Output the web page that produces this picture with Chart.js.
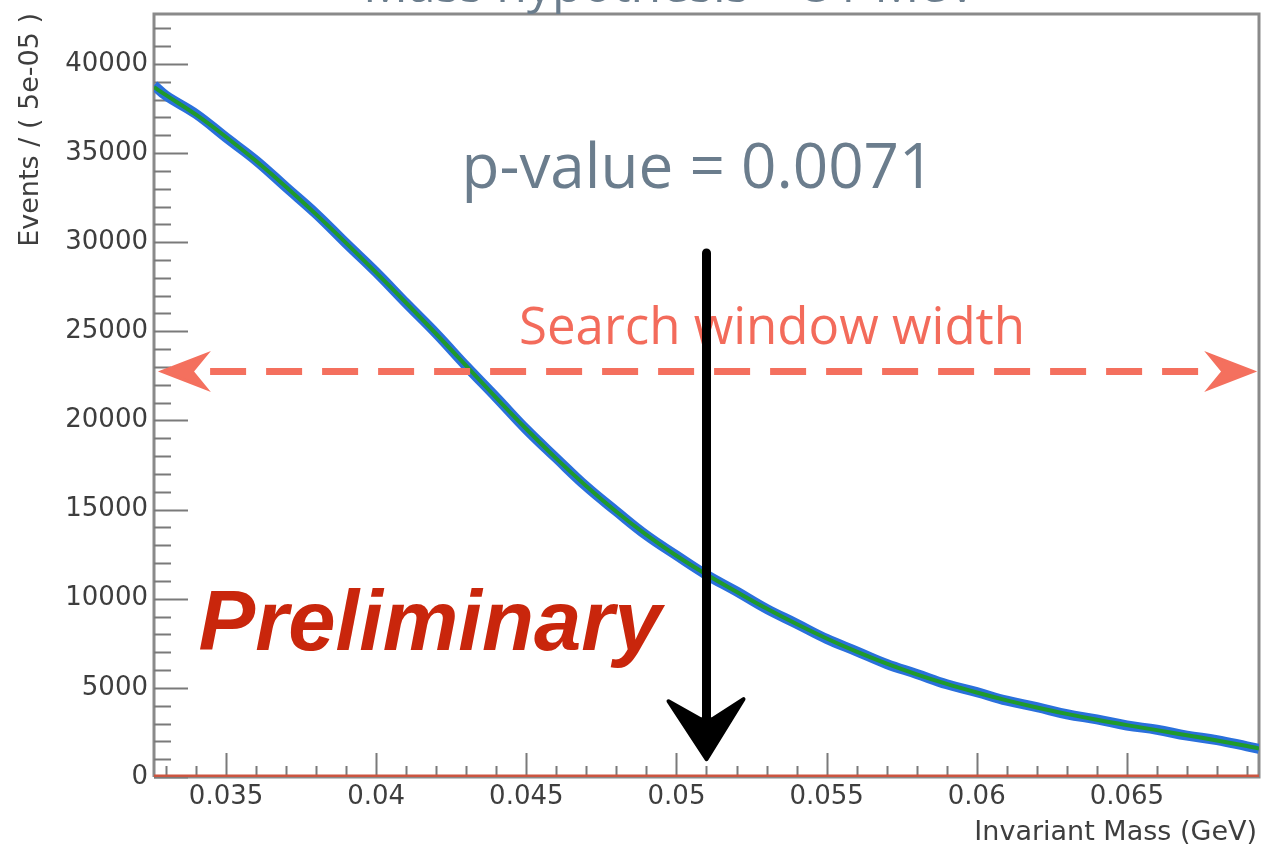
<!DOCTYPE html>
<html><head><meta charset="utf-8">
<script src="https://cdn.jsdelivr.net/npm/chart.js@4.4.1/dist/chart.umd.min.js"></script>
<style>html,body{margin:0;padding:0;background:#fff;}canvas{display:block;}</style>
</head><body><canvas id="c" width="1264" height="848"></canvas>
<script>
// ---- data ----
const massValues = [0.0326, 0.033, 0.034, 0.035, 0.036, 0.037, 0.038, 0.039, 0.040, 0.041, 0.042, 0.043, 0.044, 0.045, 0.046, 0.047, 0.048, 0.049, 0.050, 0.051, 0.052, 0.053, 0.054, 0.055, 0.056, 0.057, 0.058, 0.059, 0.060, 0.061, 0.062, 0.063, 0.064, 0.065, 0.066, 0.067, 0.068, 0.069, 0.0694];
const fitEvents = [38700, 38250, 37150, 35900, 34550, 33100, 31560, 29950, 28290, 26590, 24850, 23060, 21270, 19520, 17860, 16310, 14880, 13580, 12410, 11360, 10390, 9450, 8580, 7770, 7030, 6360, 5760, 5220, 4740, 4300, 3900, 3540, 3210, 2910, 2630, 2340, 2050, 1740, 1600];
const dataEvents = [38800, 38220, 37190, 35870, 34580, 33080, 31590, 29930, 28310, 26570, 24870, 23040, 21290, 19500, 17880, 16290, 14900, 13560, 12430, 11340, 10410, 9430, 8600, 7750, 7050, 6340, 5780, 5200, 4760, 4280, 3920, 3520, 3230, 2890, 2650, 2320, 2070, 1720, 1580];
const baselineMass = [0.0326, 0.0694];
const baselineEvents = [0, 0];
const xTickLabels = ['0.035', '0.04', '0.045', '0.05', '0.055', '0.06', '0.065'];
const yTickLabels = ['0', '5000', '10000', '15000', '20000', '25000', '30000', '35000', '40000'];
const xRange = [0.0326, 0.0694];
const yRange = [0, 42800];
const massHypothesis = 0.051;
const windowEdges = [0.03287, 0.0692];
const windowLevel = 22750;
const arrowTop = 29400, arrowTip = 1000;

const xMinor = []; for (let i = 33; i <= 69; i++) xMinor.push(i / 1000);
const yMinor = []; for (let i = 0; i <= 42; i++) yMinor.push(i * 1000);
const xMajorVals = xTickLabels.map(Number);
const yMajorVals = yTickLabels.map(Number);
const isMajor = (v, arr) => arr.some(m => Math.abs(m - v) < 1e-9 * Math.max(1, Math.abs(m)));

const tickFont = {family: "'DejaVu Sans', sans-serif", size: 26};
const axisGrey = '#3e3e3e';

const rootFrame = {
  id: 'rootFrame',
  beforeDatasetsDraw(chart) {
    const {ctx, chartArea: a, scales: {x, y}} = chart;
    ctx.save();
    ctx.strokeStyle = '#8a8a8a';
    ctx.lineWidth = 3;
    ctx.beginPath();
    ctx.moveTo(a.left, a.bottom); ctx.lineTo(a.left, a.top); ctx.lineTo(a.right, a.top); ctx.lineTo(a.right, a.bottom); ctx.lineTo(a.left, a.bottom);
    ctx.stroke();
    ctx.lineWidth = 2;
    ctx.strokeStyle = '#7a7a7a';
    ctx.beginPath();
    y.ticks.forEach(t => {
      const py = Math.round(y.getPixelForValue(t.value)) + 0.5;
      const len = isMajor(t.value, yMajorVals) ? 34 : 17;
      ctx.moveTo(a.left, py); ctx.lineTo(a.left + len, py);
    });
    x.ticks.forEach(t => {
      const px = Math.round(x.getPixelForValue(t.value)) + 0.5;
      const len = isMajor(t.value, xMajorVals) ? 24 : 11;
      ctx.moveTo(px, a.bottom); ctx.lineTo(px, a.bottom - len);
    });
    ctx.stroke();
    ctx.restore();
  },
  afterDraw(chart) {
    const {ctx, scales: {x, y}} = chart;
    ctx.save();
    // partially visible title
    ctx.fillStyle = '#6b7d8d';
    ctx.font = "50px 'Open Sans', sans-serif";
    ctx.textAlign = 'center'; ctx.textBaseline = 'alphabetic';
    ctx.fillText('Mass hypothesis = 51 MeV', 670, 2);
    // p-value
    ctx.font = "62px 'Open Sans', sans-serif";
    ctx.fillText('p-value = 0.0071', 698, 188);
    // Search window width
    ctx.fillStyle = '#f36b5b';
    ctx.font = "51px 'Open Sans', sans-serif";
    ctx.fillText('Search window width', 772, 344);
    // dashed double arrow
    const yl = y.getPixelForValue(windowLevel);
    const xl = x.getPixelForValue(windowEdges[0]);
    const xr = x.getPixelForValue(windowEdges[1]);
    ctx.strokeStyle = '#f4705e';
    ctx.lineWidth = 7;
    ctx.setLineDash([36, 20]);
    ctx.beginPath(); ctx.moveTo(xl + 48, yl); ctx.lineTo(xr - 40, yl); ctx.stroke();
    ctx.setLineDash([]);
    ctx.fillStyle = '#f4705e';
    const head = (tipX, dir) => {
      ctx.beginPath();
      ctx.moveTo(tipX, yl);
      ctx.lineTo(tipX + dir * 44, yl - 17);
      ctx.lineTo(tipX + dir * 30, yl);
      ctx.lineTo(tipX + dir * 44, yl + 17);
      ctx.closePath(); ctx.fill();
      ctx.lineWidth = 3; ctx.strokeStyle = '#f4705e'; ctx.stroke();
    };
    head(xl, 1); head(xr, -1);
    // Preliminary
    ctx.fillStyle = '#c9260c';
    ctx.font = "italic bold 85px 'Liberation Sans', Arial, sans-serif";
    ctx.fillText('Preliminary', 430, 650);
    // black hand-drawn arrow at mass hypothesis
    const ax = x.getPixelForValue(massHypothesis);
    const at = y.getPixelForValue(arrowTop);
    const ab = y.getPixelForValue(arrowTip);
    ctx.strokeStyle = '#000'; ctx.fillStyle = '#000';
    ctx.lineWidth = 9; ctx.lineCap = 'round';
    ctx.beginPath(); ctx.moveTo(ax, at); ctx.lineTo(ax, ab - 20); ctx.stroke();
    ctx.beginPath();
    ctx.moveTo(ax, ab);
    ctx.lineTo(ax - 38, ab - 58);
    ctx.lineTo(ax - 6, ab - 40);
    ctx.lineTo(ax + 6, ab - 40);
    ctx.lineTo(ax + 37, ab - 60);
    ctx.closePath(); ctx.fill();
    ctx.lineWidth = 4; ctx.lineJoin = 'round'; ctx.stroke();
    // axis titles
    ctx.fillStyle = axisGrey;
    ctx.font = "27px 'DejaVu Sans', sans-serif";
    ctx.textAlign = 'right'; ctx.textBaseline = 'alphabetic';
    ctx.fillText('Invariant Mass (GeV)', 1257, 840);
    ctx.translate(38, 13); ctx.rotate(-Math.PI / 2);
    ctx.textAlign = 'right';
    ctx.fillText('Events / ( 5e-05 )', 0, 0);
    ctx.restore();
  }
};

new Chart(document.getElementById('c'), {
  type: 'line',
  data: {
    datasets: [
      {label: 'fit', data: massValues.map((m, i) => ({x: m, y: fitEvents[i]})), borderColor: '#1f9a2c', borderWidth: 4, pointRadius: 0, tension: 0.4, order: 1},
      {label: 'data', data: massValues.map((m, i) => ({x: m, y: dataEvents[i]})), borderColor: '#2a70dc', borderWidth: 10, pointRadius: 0, tension: 0.4, order: 2},
      {label: 'zero', data: baselineMass.map((m, i) => ({x: m, y: baselineEvents[i]})), borderColor: '#cc5540', borderWidth: 5, pointRadius: 0, order: 3}
    ]
  },
  options: {
    responsive: false, animation: false, devicePixelRatio: 1,
    layout: {padding: {top: 14, right: 5, left: 0, bottom: 0}},
    plugins: {legend: {display: false}, tooltip: {enabled: false}},
    scales: {
      x: {
        type: 'linear', min: xRange[0], max: xRange[1],
        grid: {display: false}, border: {display: false},
        afterBuildTicks: s => { s.ticks = xMinor.map(v => ({value: v})); },
        afterFit: s => { s.height = 71; },
        ticks: {autoSkip: false, maxRotation: 0, minRotation: 0, padding: -3, color: axisGrey, font: tickFont,
          callback: v => { const i = xMajorVals.findIndex(m => Math.abs(m - v) < 1e-9); return i >= 0 ? xTickLabels[i] : ''; }}
      },
      y: {
        type: 'linear', min: yRange[0], max: yRange[1],
        grid: {display: false}, border: {display: false},
        afterBuildTicks: s => { s.ticks = yMinor.map(v => ({value: v})); },
        afterFit: s => { s.width = 154; },
        ticks: {autoSkip: false, padding: -2, color: axisGrey, font: tickFont,
          callback: v => { const i = yMajorVals.indexOf(v); return i >= 0 ? yTickLabels[i] : ''; }}
      }
    }
  },
  plugins: [rootFrame]
});
</script></body></html>
